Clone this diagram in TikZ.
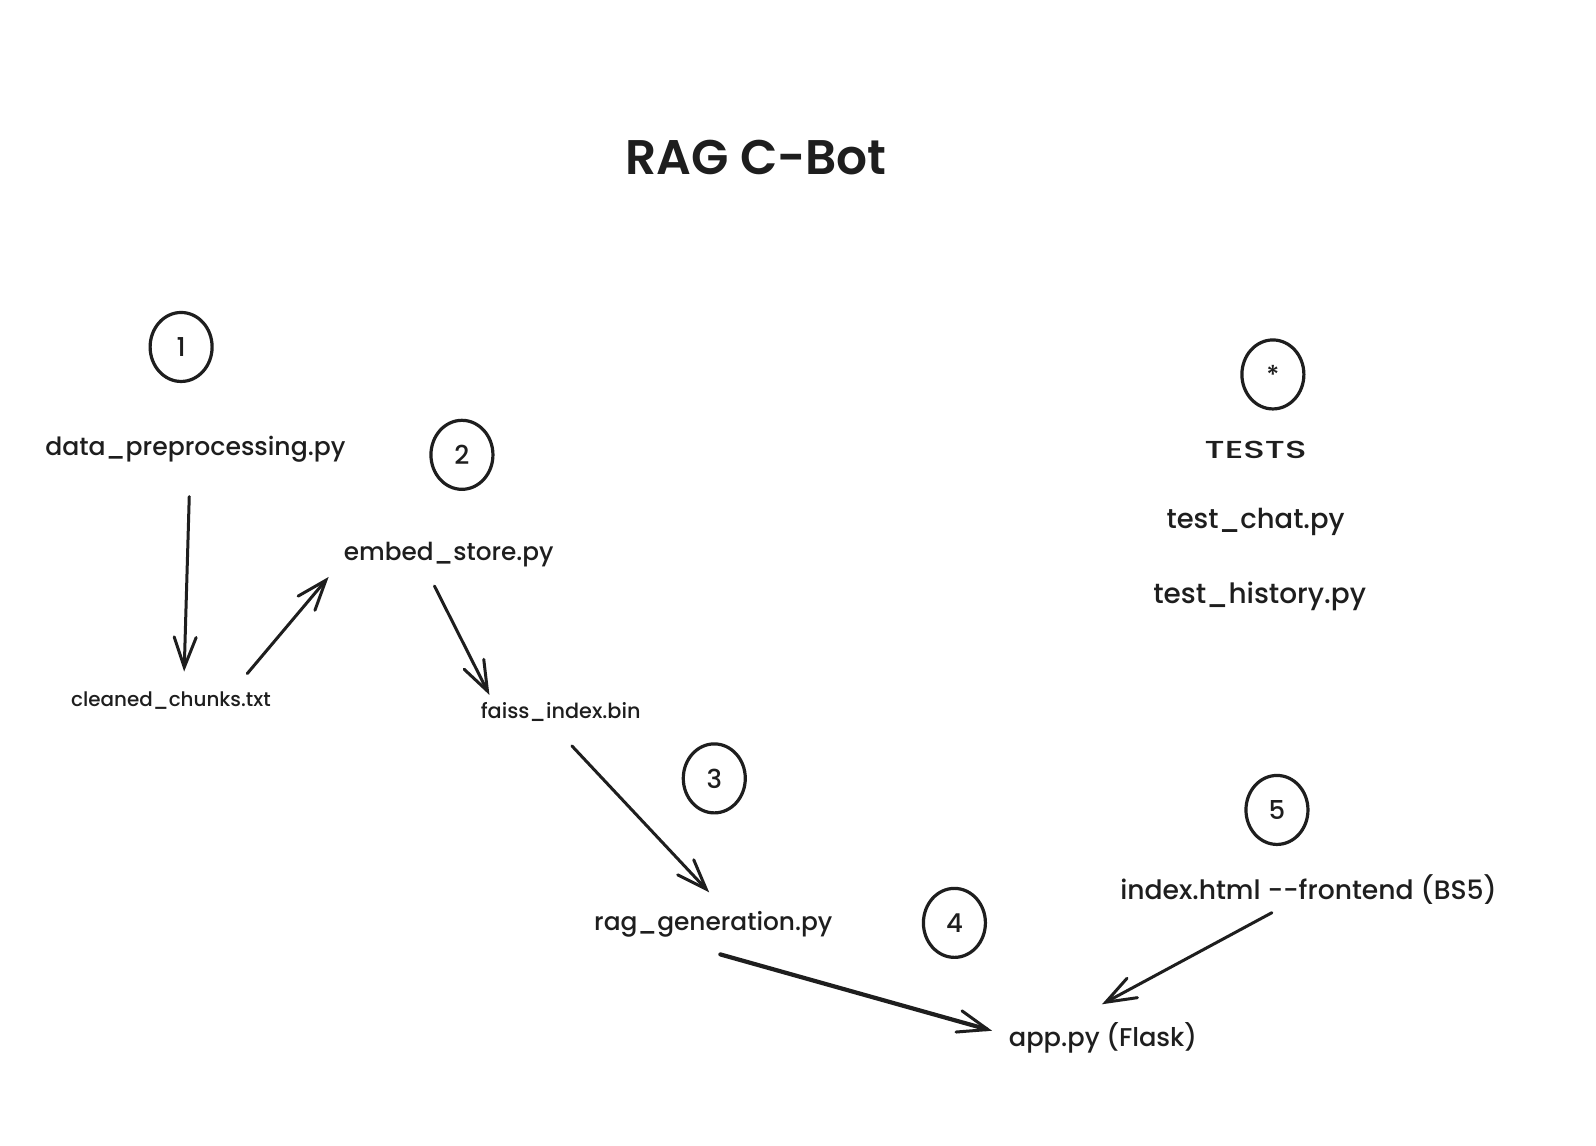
\documentclass[tikz,border=0pt]{standalone}
\usepackage{fontspec}
\setmainfont{Poppins}[UprightFont={* Medium}, BoldFont={* SemiBold}]
\usetikzlibrary{arrows.meta,shapes.geometric,calc}
\definecolor{ink}{HTML}{1E1E1E}
\newcommand{\fitw}[2]{\resizebox{1.0175\dimexpr #1pt\relax}{!}{#2}}
\newcommand{\fitwh}[3]{\resizebox{1.0175\dimexpr #1pt\relax}{1.0175\dimexpr #2pt\relax}{#3}}
\begin{document}
\begin{tikzpicture}[x=1.0175pt,y=-1.0175pt,
  lbl/.style={inner sep=0pt, text=ink, anchor=center},
  numc/.style={ellipse, draw=ink, line width=3.2pt, minimum width=62pt, minimum height=69pt, inner sep=0pt, text=ink, font=\fontsize{26}{26}\selectfont},
  arr/.style={draw=ink, line width=3pt, line cap=round, line join=round, -{Straight Barb[length=30pt,width=22pt,line width=3pt,line cap=round]}},
  arrthick/.style={arr, line width=4.2pt}
]
\useasboundingbox[fill=white] (0,0) rectangle (1568.55,1126.29);

\node[lbl] (title) at (743,155) {\fitw{257}{\bfseries RAG C-Bot}};

\node[numc] (c1) at (178,341) {1};
\node[numc] (c2) at (454,447) {2};
\node[numc] (c3) at (702,765) {3};
\node[numc] (c4) at (938,907) {4};
\node[numc] (c5) at (1255,796) {5};
\node[numc] (cs) at (1251,368) {*};

\node[lbl] (dp) at (192,442) {\fitw{295}{data\_preprocessing.py}};
\node[lbl] (es) at (441,545) {\fitw{206}{embed\_store.py}};
\node[lbl] (cc) at (168,689) {\fitw{196}{cleaned\_chunks.txt}};
\node[lbl] (fi) at (551,700) {\fitw{157}{faiss\_index.bin}};
\node[lbl] (rg) at (701,908) {\fitw{234}{rag\_generation.py}};
\node[lbl] (app) at (1084,1020) {\fitw{185}{app.py (Flask)}};
\node[lbl] (ix) at (1286,874) {\fitw{370}{index.html -{}-frontend (BS5)}};
\node[lbl] (tests) at (1234,442) {\fitwh{100}{17}{TESTS}};
\node[lbl] (tc) at (1234,513) {\fitw{175}{test\_chat.py}};
\node[lbl] (th) at (1238,586) {\fitw{209}{test\_history.py}};

\draw[arr] ($(dp.center)+(-6,46)$) -- ($(cc.center)+(13,-29)$);
\draw[arr] ($(cc.center)+(75,-27)$) -- ($(es.center)+(-118,22)$);
\draw[arr] ($(es.center)+(-14,31)$) -- ($(fi.center)+(-70,-17)$);
\draw[arr] ($(fi.center)+(11,33)$) -- ($(rg.center)+(-4,-31)$);
\draw[arrthick] ($(rg.center)+(7,30)$) -- ($(app.center)+(-109,-7)$);
\draw[arr] ($(ix.center)+(-36,23)$) -- ($(app.center)+(-1,-33)$);
\end{tikzpicture}
\end{document}
